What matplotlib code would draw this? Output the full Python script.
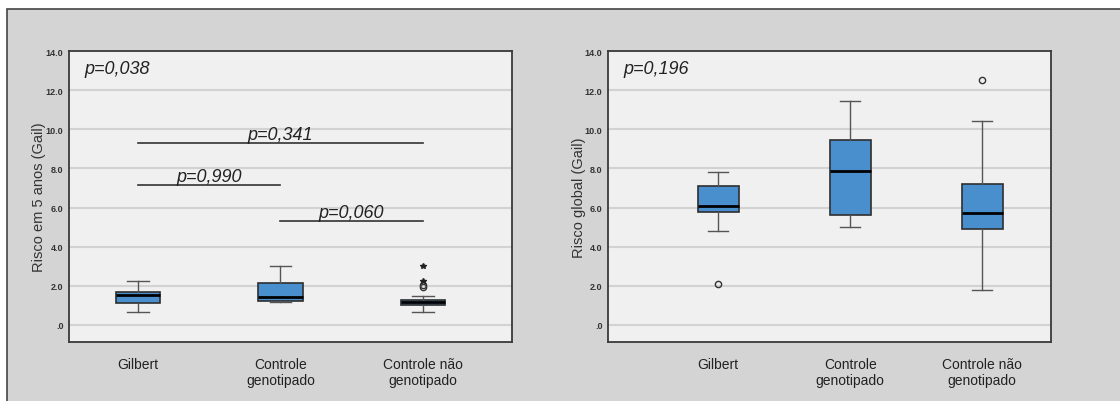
import matplotlib.pyplot as plt
from matplotlib.patches import Rectangle

plt.rcParams['font.family'] = ['Liberation Sans', 'DejaVu Sans']

groups = ['Gilbert', 'Controle\ngenotipado', 'Controle não\ngenotipado']
yticks = [0, 2, 4, 6, 8, 10, 12, 14]
ytick_labels = ['.0', '2.0', '4.0', '6.0', '8.0', '10.0', '12.0', '14.0']

# Risco em 5 anos (Gail)
gail5_whislo = [0.65, 1.18, 0.65]
gail5_q1 = [1.13, 1.23, 1.02]
gail5_med = [1.52, 1.45, 1.19]
gail5_q3 = [1.67, 2.13, 1.30]
gail5_whishi = [2.23, 3.00, 1.50]
gail5_circles = [[], [], [1.96, 2.04]]
gail5_stars = [[], [], [2.27, 3.00]]
gail5_p = 'p=0,038'

# pairwise comparisons (left panel)
pair_groups = [(1, 3), (1, 2), (2, 3)]
pair_heights = [9.28, 7.13, 5.29]
pair_labels = ['p=0,341', 'p=0,990', 'p=0,060']

# Risco global (Gail)
glob_whislo = [4.81, 5.01, 1.81]
glob_q1 = [5.76, 5.61, 4.88]
glob_med = [6.10, 7.86, 5.71]
glob_q3 = [7.11, 9.46, 7.21]
glob_whishi = [7.81, 11.42, 10.42]
glob_circles = [[2.10], [], [12.52]]
glob_p = 'p=0,196'

box_color = '#4a8fcd'
edge_color = '#2e2e2e'


def draw_panel(ax, whislo, q1, med, q3, whishi, circles, ylabel, ptext, xlim,
               labelpad, stars=None):
    ax.set_facecolor('#f0f0f0')
    stats = []
    for i in range(len(groups)):
        stats.append(dict(whislo=whislo[i], q1=q1[i], med=med[i], q3=q3[i],
                          whishi=whishi[i], fliers=circles[i]))
    ax.bxp(stats, positions=[1, 2, 3], widths=0.31, patch_artist=True,
           boxprops=dict(facecolor=box_color, edgecolor=edge_color, linewidth=1.2),
           medianprops=dict(color='black', linewidth=2),
           whiskerprops=dict(color='#555555', linewidth=1),
           capprops=dict(color='#555555', linewidth=1),
           capwidths=0.15,
           flierprops=dict(marker='o', markersize=4.5, markerfacecolor='none',
                           markeredgecolor='#333333', markeredgewidth=1),
           zorder=3)
    if stars:
        for i, vals in enumerate(stars):
            if vals:
                ax.plot([i + 1] * len(vals), vals, linestyle='none', marker='*',
                        markersize=4, color='#222222', zorder=4)

    ax.set_xlim(*xlim)
    ax.set_ylim(-0.87, 14)
    ax.set_yticks(yticks)
    ax.set_yticklabels(ytick_labels, fontsize=6.5, color='#333333', fontweight='bold')
    ax.set_xticks([1, 2, 3])
    ax.set_xticklabels(groups, fontsize=10, color='#222222')
    ax.tick_params(axis='both', length=0)
    ax.tick_params(axis='x', pad=11)
    ax.tick_params(axis='y', pad=4)
    ax.yaxis.grid(True, color='#d2d2d2', linewidth=1.5)
    ax.set_axisbelow(True)
    for s in ax.spines.values():
        s.set_color('#3a3a3a')
        s.set_linewidth(1.3)
    ax.set_ylabel(ylabel, fontsize=10.5, color='#333333', labelpad=labelpad)
    ax.text(0.035, 0.94, ptext, transform=ax.transAxes, fontsize=13,
            style='italic', color='#222222', va='center', ha='left')


fig = plt.figure(figsize=(11.2, 4.02), dpi=100, facecolor='white')
# gray panel with a dark border on top and left only (right/bottom fall off the figure)
fig.patches.append(Rectangle((7 / 1120, -0.1), 1.1, 1.1 - 10 / 402,
                             transform=fig.transFigure, facecolor='#d4d4d4',
                             edgecolor='#444444', linewidth=1.2, zorder=-5))

ax1 = fig.add_axes([69 / 1120, 1 - 343 / 402, 443 / 1120, 291 / 402])
ax2 = fig.add_axes([608 / 1120, 1 - 343 / 402, 443 / 1120, 291 / 402])

draw_panel(ax1, gail5_whislo, gail5_q1, gail5_med, gail5_q3, gail5_whishi,
           gail5_circles, 'Risco em 5 anos (Gail)', gail5_p, (0.516, 3.625),
           labelpad=0, stars=gail5_stars)

for (a, b), h, lab in zip(pair_groups, pair_heights, pair_labels):
    ax1.plot([a, b], [h, h], color='#333333', linewidth=1.2, zorder=3)
    ax1.text((a + b) / 2, h, lab, fontsize=13, style='italic', color='#222222',
             ha='center', va='bottom', zorder=4)

draw_panel(ax2, glob_whislo, glob_q1, glob_med, glob_q3, glob_whishi,
           glob_circles, 'Risco global (Gail)', glob_p, (0.167, 3.52),
           labelpad=-1)

fig.savefig('out.png', dpi=100, facecolor=fig.get_facecolor())
